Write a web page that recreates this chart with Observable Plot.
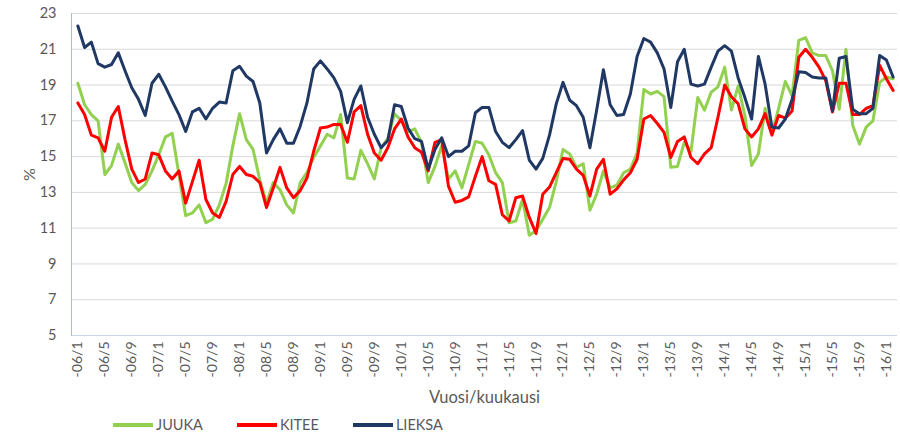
<!DOCTYPE html>
<html>
<head>
<meta charset="utf-8">
<script src="https://cdn.jsdelivr.net/npm/d3@7"></script>
<script src="https://cdn.jsdelivr.net/npm/@observablehq/plot@0.6"></script>
<style>
  html, body { margin: 0; padding: 0; background: #fff; }
  body { font-family: Lato, "Open Sans", sans-serif; width: 900px; height: 437px; overflow: hidden; position: relative; }
  #legend { position: absolute; top: 416px; left: 113px; display: flex; gap: 34px; font-size: 14.5px; color: #595959; }
  .item { display: flex; align-items: center; gap: 3px; }
  .sw { width: 40px; height: 4px; }
</style>
</head>
<body>
<div id="chart"></div>
<div id="legend"></div>
<script>
// Series names and colours
const seriesNames = ["JUUKA", "KITEE", "LIEKSA"];
const seriesColors = ["#92d050", "#ff0000", "#203864"];

// Monthly values 2006/1 – 2016/2 (%)
const juuka = [
  19.1, 17.9, 17.35, 17.0, 14.0, 14.5, 15.7, 14.65, 13.55, 13.1, 13.45, 14.2,
  15.1, 16.1, 16.3, 14.0, 11.7, 11.85, 12.3, 11.3, 11.5, 12.3, 13.5, 15.6,
  17.4, 15.95, 15.4, 13.7, 12.4, 13.55, 13.15, 12.3, 11.85, 13.55, 14.1, 14.95,
  15.6, 16.25, 16.05, 17.35, 13.8, 13.75, 15.35, 14.6, 13.75, 15.5, 16.0, 17.4,
  17.0, 16.4, 16.55, 15.8, 13.55, 14.45, 15.6, 13.75, 14.2, 13.25, 14.55, 15.85,
  15.75, 15.1, 14.1, 13.55, 11.3, 11.4, 12.6, 10.6, 10.85, 11.5, 12.15, 13.6,
  15.4, 15.15, 14.4, 14.6, 12.0, 12.9, 14.2, 13.25, 13.4, 14.1, 14.3, 15.2,
  18.75, 18.5, 18.65, 18.35, 14.4, 14.45, 15.8, 15.3, 18.3, 17.6, 18.6, 18.9,
  20.0, 17.6, 18.95, 17.3, 14.5, 15.15, 17.7, 16.3, 17.7, 19.2, 18.4, 21.5,
  21.65, 20.8, 20.65, 20.65, 19.8, 17.65, 21.0, 16.75, 15.7, 16.65, 17.0, 19.15,
  19.45, 19.35
];
const kitee = [
  18.0, 17.35, 16.2, 16.05, 15.3, 17.2, 17.8, 15.95, 14.3, 13.55, 13.75, 15.2,
  15.1, 14.2, 13.75, 14.2, 12.4, 13.6, 14.8, 12.6, 11.85, 11.6, 12.5, 14.0,
  14.45, 14.0, 13.9, 13.55, 12.15, 13.25, 14.4, 13.25, 12.7, 13.1, 13.8, 15.3,
  16.6, 16.65, 16.8, 16.8, 15.8, 17.5, 17.85, 16.25, 15.2, 14.8, 15.5, 16.55,
  17.1, 16.1, 15.5, 15.25, 14.2, 15.8, 15.95, 13.35, 12.45, 12.55, 12.75, 13.9,
  15.0, 13.65, 13.45, 11.75, 11.4, 12.7, 12.8, 11.6, 10.7, 12.9, 13.3, 14.1,
  14.9, 14.85, 14.3, 13.95, 12.8, 14.3, 14.85, 12.9, 13.2, 13.7, 14.1, 14.85,
  17.1, 17.3, 16.85, 16.35, 14.95, 15.85, 16.1, 14.95, 14.6, 15.15, 15.5, 17.2,
  19.0, 18.35, 17.95, 16.55, 16.1, 16.55, 17.4, 16.2, 17.3, 17.15, 17.55, 20.55,
  21.0, 20.55, 20.0, 19.25, 17.5, 19.1, 19.1, 17.35, 17.35, 17.7, 17.85, 20.1,
  19.35, 18.7
];
const lieksa = [
  22.3, 21.1, 21.4, 20.2, 20.0, 20.15, 20.8, 19.8, 18.85, 18.2, 17.3, 19.1,
  19.6, 18.9, 18.1, 17.35, 16.4, 17.5, 17.7, 17.1, 17.7, 18.05, 18.0, 19.8,
  20.05, 19.5, 19.2, 18.0, 15.2, 15.95, 16.55, 15.75, 15.75, 16.7, 18.0, 19.9,
  20.35, 19.9, 19.4, 18.65, 16.9, 18.2, 18.95, 17.2, 16.25, 15.5, 15.9, 17.9,
  17.8, 16.6, 16.0, 15.85, 14.3, 15.4, 16.05, 15.0, 15.3, 15.3, 15.6, 17.45,
  17.75, 17.75, 16.4, 15.8, 15.5, 15.95, 16.45, 14.8, 14.3, 14.9, 16.2, 17.95,
  19.15, 18.15, 17.85, 17.2, 15.5, 17.6, 19.85, 17.9, 17.3, 17.35, 18.5, 20.6,
  21.6, 21.4, 20.8, 19.9, 17.75, 20.3, 21.0, 19.05, 18.95, 19.05, 20.0, 20.9,
  21.2, 20.9, 19.4, 18.3, 17.1, 20.6, 19.05, 16.65, 16.6, 17.1, 18.2, 19.75,
  19.7, 19.45, 19.4, 19.4, 17.55, 20.5, 20.6, 17.65, 17.4, 17.4, 17.7, 20.65,
  20.4, 19.45
];

// Categories (year/month) and axis ticks
const months = [];
for (let y = 6; y <= 16; y++) for (let m = 1; m <= 12; m++) months.push(`-${String(y).padStart(2, "0")}/${m}`);
months.length = juuka.length;
const xTickLabels = [
  "-06/1","-06/5","-06/9","-07/1","-07/5","-07/9","-08/1","-08/5","-08/9",
  "-09/1","-09/5","-09/9","-10/1","-10/5","-10/9","-11/1","-11/5","-11/9",
  "-12/1","-12/5","-12/9","-13/1","-13/5","-13/9","-14/1","-14/5","-14/9",
  "-15/1","-15/5","-15/9","-16/1"
];
const yTicks = [5, 7, 9, 11, 13, 15, 17, 19, 21, 23];

const valuesByName = { JUUKA: juuka, KITEE: kitee, LIEKSA: lieksa };
const data = seriesNames.flatMap(name =>
  valuesByName[name].map((v, i) => ({ month: months[i], value: v, name }))
);

const chart = Plot.plot({
  width: 900,
  height: 412,
  marginLeft: 71,
  marginRight: 3,
  marginTop: 13,
  marginBottom: 77,
  style: { fontFamily: "Lato, 'Open Sans', sans-serif", fontSize: "14px", color: "#595959", background: "#fff" },
  x: { type: "point", domain: months, range: [74, 896] },
  y: { domain: [5, 23] },
  color: { domain: seriesNames, range: seriesColors },
  marks: [
    Plot.gridY(yTicks, { stroke: "#d9d9d9", strokeOpacity: 1, strokeWidth: 1 }),
    Plot.axisY(yTicks, { tickSize: 0, tickPadding: 15, fontSize: 14.5, label: null }),
    Plot.axisY([], { label: "%", labelArrow: "none", labelAnchor: "center", labelOffset: 48, fontSize: 16 }),
    Plot.axisX(xTickLabels, { tickSize: 0, tickPadding: 6, tickRotate: -90, fontSize: 14, label: null }),
    Plot.axisX([], { label: "Vuosi/kuukausi", labelArrow: "none", labelAnchor: "center", labelOffset: 67, fontSize: 16.5 }),
    Plot.ruleY([5], { stroke: "#c9d5e6" }),
    Plot.frame({ anchor: "left", stroke: "#a9c0dc" }),
    Plot.line(data, { x: "month", y: "value", z: "name", stroke: "name", strokeWidth: 3, strokeLinejoin: "round" })
  ]
});
document.getElementById("chart").appendChild(chart);

// Legend below the chart
const legend = document.getElementById("legend");
seriesNames.forEach((name, i) => {
  const item = document.createElement("div");
  item.className = "item";
  const sw = document.createElement("div");
  sw.className = "sw";
  sw.style.background = seriesColors[i];
  const label = document.createElement("span");
  label.textContent = name;
  item.appendChild(sw);
  item.appendChild(label);
  legend.appendChild(item);
});
</script>
</body>
</html>
